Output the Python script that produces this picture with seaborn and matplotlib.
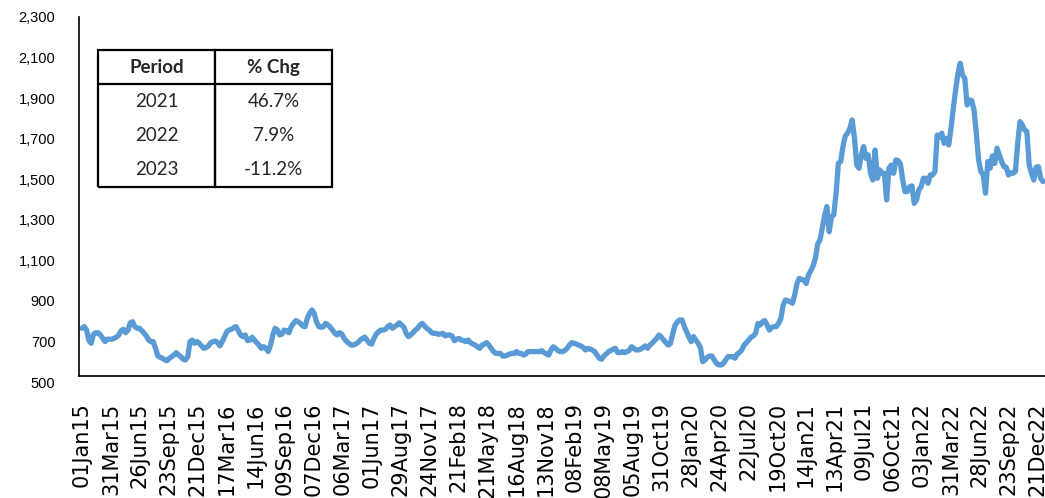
import matplotlib
matplotlib.use("Agg")
import matplotlib.pyplot as plt
import numpy as np
import pandas as pd
import seaborn as sns
from matplotlib.ticker import FuncFormatter

# weekly closes, one value every 5 weekdays from 01Jan15
wk_2015 = [765, 773, 756, 705, 691, 735, 743, 743, 732, 716, 699, 711, 711, 711,
           716, 721, 732, 753, 760, 743, 756, 792, 797, 773, 765, 765, 753, 740,
           727, 707, 699, 699, 666, 628, 622, 617, 609, 605, 617, 625, 633, 645,
           633, 625, 612, 609, 625, 699, 707, 691, 699, 691, 678]
wk_2016 = [666, 670, 678, 694, 699, 702, 694, 678, 699, 724, 748, 756, 760, 768,
           773, 753, 732, 724, 732, 704, 707, 721, 707, 694, 682, 666, 674, 666,
           650, 682, 732, 765, 756, 732, 737, 756, 753, 743, 773, 789, 803, 797,
           789, 776, 773, 814, 839, 855, 839, 797, 773, 770]
wk_2017 = [773, 789, 781, 770, 756, 740, 732, 743, 737, 715, 702, 691, 682, 682,
           687, 694, 707, 715, 721, 707, 691, 687, 715, 737, 748, 756, 756, 760,
           773, 781, 765, 773, 781, 792, 781, 770, 740, 724, 732, 743, 756, 765,
           781, 789, 776, 765, 756, 743, 740, 740, 735, 737]
wk_2018 = [740, 727, 732, 732, 727, 704, 711, 715, 707, 704, 699, 707, 694, 687,
           682, 674, 666, 682, 687, 694, 682, 666, 650, 641, 641, 641, 628, 628,
           633, 638, 641, 641, 650, 641, 641, 633, 638, 650, 650, 650, 650, 650,
           650, 655, 645, 638, 633, 658, 674, 666, 655, 650]
wk_2019 = [650, 655, 666, 682, 694, 691, 687, 682, 678, 670, 658, 666, 662, 658,
           650, 633, 617, 612, 628, 638, 650, 655, 662, 666, 645, 645, 650, 645,
           650, 655, 674, 666, 658, 658, 662, 670, 678, 666, 682, 691, 704, 715,
           732, 721, 707, 694, 682, 691, 740, 781, 797, 806]
wk_2020 = [806, 773, 748, 721, 699, 724, 707, 691, 670, 600, 609, 622, 628, 628,
           609, 592, 584, 584, 592, 609, 625, 625, 625, 617, 638, 645, 658, 682,
           694, 707, 721, 727, 740, 789, 781, 797, 803, 781, 756, 770, 773, 773,
           789, 814, 880, 904, 901, 896, 888, 929, 986, 1011, 1006]
wk_2021 = [1003, 986, 1028, 1048, 1072, 1110, 1181, 1200, 1258, 1319, 1365, 1241,
           1315, 1324, 1431, 1578, 1587, 1661, 1713, 1727, 1751, 1792, 1702, 1570,
           1554, 1620, 1661, 1603, 1620, 1529, 1496, 1644, 1505, 1546, 1529, 1529,
           1398, 1554, 1570, 1529, 1595, 1592, 1575, 1496, 1439, 1439, 1463, 1467,
           1381, 1398, 1447, 1463]
wk_2022 = [1505, 1505, 1480, 1521, 1521, 1538, 1718, 1707, 1727, 1677, 1702, 1669,
           1751, 1850, 1940, 2022, 2072, 2014, 1997, 1866, 1891, 1888, 1842, 1727,
           1595, 1538, 1521, 1431, 1587, 1554, 1615, 1578, 1653, 1620, 1587, 1562,
           1559, 1521, 1532, 1529, 1538, 1677, 1784, 1768, 1743, 1735, 1570, 1529,
           1496, 1559, 1562, 1505, 1488]

period = ["2021", "2022", "2023"]
pct_chg = ["46.7%", "7.9%", "-11.2%"]

start = "2015-01-01"
step = 5          # weekdays between readings
tick_every = 63   # weekdays between x labels
n_ticks = 34

values = wk_2015 + wk_2016 + wk_2017 + wk_2018 + wk_2019 + wk_2020 + wk_2021 + wk_2022
df = pd.DataFrame({"pos": np.arange(len(values)) * step, "close": values})
days = pd.bdate_range(start, periods=tick_every * (n_ticks - 1) + 1)

sns.set_theme(style="white")
plt.rcParams["font.family"] = ["Liberation Sans", "DejaVu Sans"]

W, H = 1045, 498
fig = plt.figure(figsize=(W / 100, H / 100), dpi=100)
ax = fig.add_axes([79 / W, 1 - 382 / H, (W - 79) / W, 365 / H])

sns.lineplot(data=df, x="pos", y="close", ax=ax, color="#5B9BD5", linewidth=3.8)

ax.set_xlabel("")
ax.set_ylabel("")

ax.set_xlim(-6.5, 2094.4)
ax.set_ylim(500, 2300)
ax.set_yticks(np.arange(500, 2301, 200))
ax.yaxis.set_major_formatter(FuncFormatter(lambda v, _: f"{v:,.0f}"))
tick_pos = np.arange(n_ticks) * tick_every
ax.set_xticks(tick_pos)
ax.set_xticklabels([days[p].strftime("%d%b%y") for p in tick_pos])
ax.tick_params(axis="x", length=0, pad=19, colors="black", labelrotation=90,
               labelsize=15, labelfontfamily="DejaVu Sans")
ax.tick_params(axis="y", length=0, pad=17, labelsize=10.5, colors="black")

for side in ["top", "right"]:
    ax.spines[side].set_visible(False)
ax.spines["bottom"].set_position(("data", 530))
ax.spines["left"].set_bounds(530, 2300)
for side in ["left", "bottom"]:
    ax.spines[side].set_color("black")
    ax.spines[side].set_linewidth(1.2)

tax = fig.add_axes([98 / W, 1 - 187 / H, 234 / W, 137 / H])
tax.axis("off")
tab = tax.table(cellText=[[p, c] for p, c in zip(period, pct_chg)],
                colLabels=["Period", "% Chg"], cellLoc="center", bbox=[0, 0, 1, 1])
tab.auto_set_font_size(False)
for (r, c), cell in tab.get_celld().items():
    cell.set_linewidth(1.6)
    cell.set_edgecolor("black")
    cell.set_facecolor("white")
    txt = cell.get_text()
    txt.set_fontsize(13.5)
    txt.set_fontfamily("Lato")
    if r == 0:
        cell.visible_edges = "closed"
        txt.set_fontweight("bold")
    elif r == len(period):
        cell.visible_edges = "BLR"
    else:
        cell.visible_edges = "LR"

fig.savefig("out.png", dpi=100)
